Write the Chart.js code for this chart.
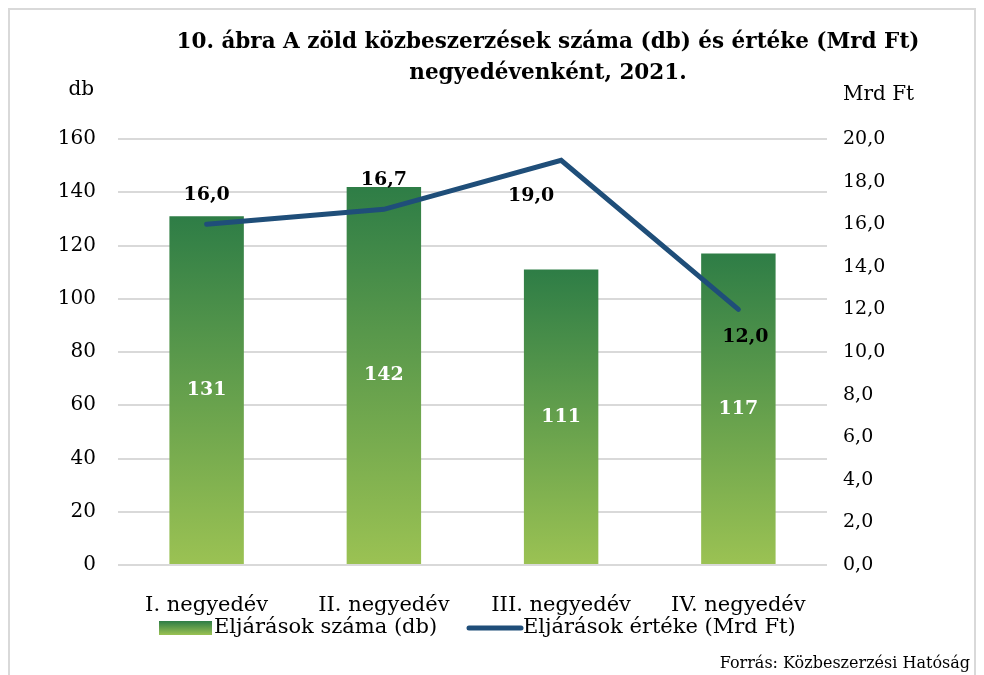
<!DOCTYPE html>
<html>
<head>
<meta charset="utf-8">
<script src="https://cdn.jsdelivr.net/npm/chart.js@4.4.1/dist/chart.umd.min.js"></script>
<style>
  body { margin: 0; background: #fff; }
  #wrap { width: 984px; height: 675px; }
</style>
</head>
<body>
<div id="wrap"><canvas id="myChart" width="984" height="675"></canvas></div>
<script>
const labels = ["I. negyedév", "II. negyedév", "III. negyedév", "IV. negyedév"];
const eljarasokSzama = [131, 142, 111, 117];
const eljarasokErteke = [16.0, 16.7, 19.0, 12.0];
const lineLabelSide = ["top", "top", "bottom", "bottom"];

const FONT = "'DejaVu Serif', serif";
const TOP_GREEN = "#2E7D46";
const BOTTOM_GREEN = "#9BC253";
const LINE_BLUE = "#1F4E79";

const fmt = (v) => v.toFixed(1).replace(".", ",");

function barGradient(context) {
  const chart = context.chart;
  const area = chart.chartArea;
  if (!area || context.type !== "data") return TOP_GREEN;
  const y = chart.scales.y;
  const top = y.getPixelForValue(context.raw);
  const bottom = y.getPixelForValue(0);
  const g = chart.ctx.createLinearGradient(0, top, 0, bottom);
  g.addColorStop(0, TOP_GREEN);
  g.addColorStop(1, BOTTOM_GREEN);
  return g;
}

// frame, titles, data labels, legend, source
const decor = {
  id: "decor",
  beforeDraw(chart) {
    const c = chart.ctx;
    c.save();
    c.strokeStyle = "#d9d9d9";
    c.lineWidth = 2;
    c.beginPath();
    c.moveTo(9, 680);
    c.lineTo(9, 9);
    c.lineTo(975, 9);
    c.lineTo(975, 680);
    c.stroke();
    c.restore();
  },
  afterDatasetsDraw(chart) {
    const c = chart.ctx;
    const a = chart.chartArea;
    c.save();
    c.fillStyle = "#000";
    c.textAlign = "center";
    c.textBaseline = "middle";
    c.font = "bold 21.5px " + FONT;
    c.fillText("10. ábra A zöld közbeszerzések száma (db) és értéke (Mrd Ft)", 548, 42);
    c.fillText("negyedévenként, 2021.", 548, 73);

    c.font = "20px " + FONT;
    c.textAlign = "right";
    c.fillText("db", a.left - 24, 90);
    c.textAlign = "left";
    c.fillText("Mrd Ft", a.right + 16, 95);

    // bar labels
    const barMeta = chart.getDatasetMeta(1);
    c.font = "bold 19px " + FONT;
    c.textAlign = "center";
    c.fillStyle = "#fff";
    barMeta.data.forEach((bar, i) => {
      const mid = (bar.y + bar.base) / 2;
      c.fillText(String(eljarasokSzama[i]), bar.x, mid);
    });

    // line labels
    const lineMeta = chart.getDatasetMeta(0);
    c.fillStyle = "#000";
    lineMeta.data.forEach((pt, i) => {
      const dy = lineLabelSide[i] === "top" ? -29 : (i === 2 ? 36 : 28);
      const dx = i === 2 ? -30 : (i === 3 ? 7 : 0);
      c.fillText(fmt(eljarasokErteke[i]), pt.x + dx, pt.y + dy);
    });

    // legend
    const ly = 628;
    const g = c.createLinearGradient(0, ly - 7, 0, ly + 7);
    g.addColorStop(0, TOP_GREEN);
    g.addColorStop(1, BOTTOM_GREEN);
    c.fillStyle = g;
    c.fillRect(159, ly - 7, 53, 14);
    c.fillStyle = "#000";
    c.font = "21px " + FONT;
    c.textAlign = "left";
    c.fillText("Eljárások száma (db)", 214, ly);
    c.strokeStyle = LINE_BLUE;
    c.lineWidth = 5;
    c.lineCap = "round";
    c.beginPath();
    c.moveTo(469, ly);
    c.lineTo(521, ly);
    c.stroke();
    c.fillText("Eljárások értéke (Mrd Ft)", 523, ly);

    c.font = "16px " + FONT;
    c.textAlign = "right";
    c.fillText("Forrás: Közbeszerzési Hatóság", 970, 664);
    c.restore();
  }
};

const ctx = document.getElementById("myChart");

const myChart = new Chart(ctx, {
  data: {
    labels,
    datasets: [
      {
        type: "line",
        label: "Eljárások értéke (Mrd Ft)",
        data: eljarasokErteke,
        yAxisID: "y2",
        borderColor: LINE_BLUE,
        borderWidth: 5,
        borderCapStyle: "round",
        pointRadius: 0,
        tension: 0,
        order: 0,
      },
      {
        type: "bar",
        label: "Eljárások száma (db)",
        data: eljarasokSzama,
        yAxisID: "y",
        backgroundColor: barGradient,
        barPercentage: 0.84,
        categoryPercentage: 0.5,
        order: 1,
      },
    ],
  },
  options: {
    responsive: false,
    animation: false,
    devicePixelRatio: 1,
    layout: { padding: { top: 139, left: 0, right: 0, bottom: 0 } },
    plugins: {
      legend: { display: false },
      title: { display: false },
      tooltip: { enabled: false },
    },
    scales: {
      x: {
        grid: { display: false },
        border: { display: false },
        ticks: { color: "#000", font: { family: FONT, size: 21 }, padding: 20 },
        afterFit: (s) => { s.height = 110; },
      },
      y: {
        position: "left",
        min: 0,
        max: 160,
        ticks: { stepSize: 20, color: "#000", font: { family: FONT, size: 20 }, padding: 22 },
        grid: { color: "#d9d9d9", lineWidth: 2, drawTicks: false },
        border: { display: false },
        afterFit: (s) => { s.width = 118; },
      },
      y2: {
        position: "right",
        min: 0,
        max: 20,
        ticks: { stepSize: 2, color: "#000", font: { family: FONT, size: 19 }, padding: 16, callback: (v) => fmt(v) },
        grid: { display: false, drawTicks: false },
        border: { display: false },
        afterFit: (s) => { s.width = 157; },
      },
    },
  },
  plugins: [decor],
});
</script>
</body>
</html>
